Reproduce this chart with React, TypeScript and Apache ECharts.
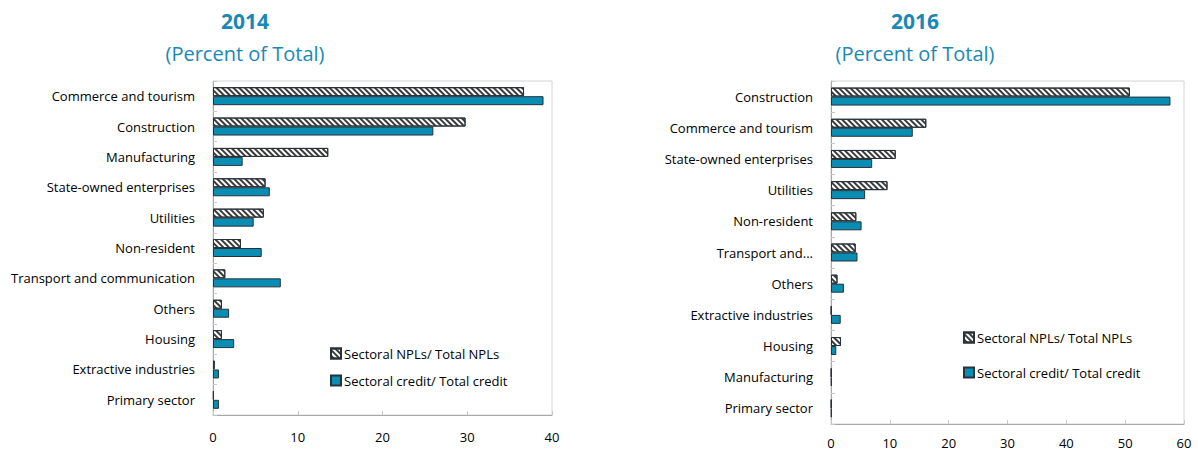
import React, { useEffect, useRef } from "react";
import * as echarts from "echarts";

const categories2014 = [
  "Commerce and tourism",
  "Construction",
  "Manufacturing",
  "State-owned enterprises",
  "Utilities",
  "Non-resident",
  "Transport and communication",
  "Others",
  "Housing",
  "Extractive industries",
  "Primary sector",
];
const npl2014 = [36.7, 29.8, 13.6, 6.2, 6.0, 3.3, 1.45, 1.05, 1.05, 0.2, 0.1];
const credit2014 = [39.0, 26.0, 3.5, 6.7, 4.8, 5.75, 8.0, 1.9, 2.5, 0.7, 0.7];

const categories2016 = [
  "Construction",
  "Commerce and tourism",
  "State-owned enterprises",
  "Utilities",
  "Non-resident",
  "Transport and communication",
  "Others",
  "Extractive industries",
  "Housing",
  "Manufacturing",
  "Primary sector",
];
const npl2016 = [50.8, 16.2, 11.0, 9.6, 4.3, 4.2, 1.1, 0.1, 1.7, 0.1, 0.1];
const credit2016 = [57.7, 13.9, 7.0, 5.8, 5.2, 4.5, 2.2, 1.65, 0.9, 0.1, 0.1];

const ticks2014 = { min: 0, max: 40, interval: 10 };
const ticks2016 = { min: 0, max: 60, interval: 10 };

const NPL_NAME = "Sectoral NPLs/ Total NPLs";
const CREDIT_NAME = "Sectoral credit/ Total credit";

const FONT = "'Open Sans', 'Noto Sans', sans-serif";
const TITLE_COLOR = "#1a88b5";
const BAR_COLOR = "#0a8db3";
const BORDER = "#26323a";

export default function App() {
  const ref = useRef<HTMLDivElement>(null);

  useEffect(() => {
    document.body.style.margin = "0";
    if (!ref.current) return;
    const chart = echarts.init(ref.current, undefined, { renderer: "svg" });

    const hatch = {
      symbol: "rect",
      symbolSize: 1,
      dashArrayX: [1, 0],
      dashArrayY: [1.6, 1.8],
      rotation: Math.PI / 4,
      color: "#3a3a3a",
      backgroundColor: "#ffffff",
    };

    const nplStyle = {
      color: "#ffffff",
      borderColor: BORDER,
      borderWidth: 1,
      decal: hatch,
    };
    const creditStyle = {
      color: BAR_COLOR,
      borderColor: BORDER,
      borderWidth: 1,
    };

    const yAxisCommon = (data: string[], idx: number) => ({
      type: "category",
      gridIndex: idx,
      data,
      inverse: true,
      axisLine: { show: true, lineStyle: { color: "#a8a8a8" } },
      axisTick: { show: true, inside: true, length: 4, lineStyle: { color: "#c8c8c8" } },
      axisLabel: {
        color: "#000",
        fontSize: 13,
        fontFamily: FONT,
        margin: 18,
        formatter: (v: string) =>
          idx === 1 && v === "Transport and communication" ? "Transport and..." : v,
      },
    });

    const xAxisCommon = (t: { min: number; max: number; interval: number }, idx: number, margin: number) => ({
      type: "value",
      gridIndex: idx,
      min: t.min,
      max: t.max,
      interval: t.interval,
      splitLine: { show: false },
      axisLine: { show: true, lineStyle: { color: "#a8a8a8" } },
      axisTick: { show: true, inside: true, length: 4, lineStyle: { color: "#c8c8c8" } },
      axisLabel: { color: "#000", fontSize: 13, fontFamily: FONT, margin },
    });

    const titleBold = { color: TITLE_COLOR, fontSize: 21, fontWeight: "bold", fontFamily: FONT };
    const titleNormal = { color: TITLE_COLOR, fontSize: 20, fontWeight: "normal", fontFamily: FONT };

    const legendCommon = {
      orient: "vertical",
      itemWidth: 10,
      itemHeight: 10,
      icon: "rect",
      selectedMode: false,
      data: [NPL_NAME, CREDIT_NAME],
      textStyle: { color: "#000", fontSize: 13, fontFamily: FONT, padding: [0, 0, 0, -2] },
    };

    chart.setOption({
      animation: false,
      textStyle: { fontFamily: FONT },
      title: [
        { text: "2014", left: 240, top: 5, textAlign: "center", textStyle: titleBold },
        { text: "(Percent of Total)", left: 240, top: 38, textAlign: "center", textStyle: titleNormal },
        { text: "2016", left: 910, top: 5, textAlign: "center", textStyle: titleBold },
        { text: "(Percent of Total)", left: 910, top: 38, textAlign: "center", textStyle: titleNormal },
      ],
      legend: [
        { ...legendCommon, left: 325, top: 342, itemGap: 14 },
        { ...legendCommon, left: 958, top: 326, itemGap: 22 },
      ],
      grid: [
        { left: 213, right: 646, top: 81, bottom: 38, show: true, borderColor: "#d4d4d4", borderWidth: 1 },
        { left: 831, right: 14, top: 81, bottom: 29, show: true, borderColor: "#d4d4d4", borderWidth: 1 },
      ],
      xAxis: [xAxisCommon(ticks2014, 0, 15), xAxisCommon(ticks2016, 1, 12)],
      yAxis: [yAxisCommon(categories2014, 0), yAxisCommon(categories2016, 1)],
      series: [
        { name: NPL_NAME, type: "bar", xAxisIndex: 0, yAxisIndex: 0, data: npl2014, barWidth: 9, barGap: "0%", itemStyle: nplStyle },
        { name: CREDIT_NAME, type: "bar", xAxisIndex: 0, yAxisIndex: 0, data: credit2014, barWidth: 9, barGap: "0%", itemStyle: creditStyle },
        { name: NPL_NAME, type: "bar", xAxisIndex: 1, yAxisIndex: 1, data: npl2016, barWidth: 9, barGap: "0%", itemStyle: nplStyle },
        { name: CREDIT_NAME, type: "bar", xAxisIndex: 1, yAxisIndex: 1, data: credit2016, barWidth: 9, barGap: "0%", itemStyle: creditStyle },
      ],
    });

    return () => chart.dispose();
  }, []);

  return <div ref={ref} style={{ width: 1198, height: 453 }} />;
}
